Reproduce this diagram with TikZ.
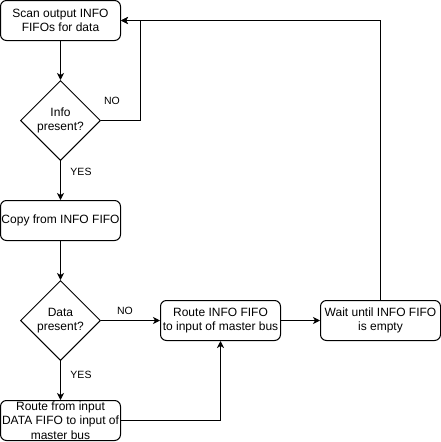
\documentclass[tikz,border=0pt]{standalone}
\usepackage{fontspec}
\setmainfont{Liberation Sans}
\usetikzlibrary{shapes.geometric,arrows.meta}
\begin{document}
\begin{tikzpicture}[x=1pt,y=-1pt,
  line width=1pt,
  stepbox/.style={draw,rounded corners=6pt,minimum width=120pt,minimum height=40pt,
    inner sep=0pt,align=center,font=\fontsize{12}{14.3}\selectfont},
  decision/.style={draw,diamond,minimum width=80pt,minimum height=80pt,
    inner sep=0pt,align=center,font=\fontsize{12}{14.3}\selectfont},
  flow/.style={-{Stealth[length=7pt,width=7pt,inset=2pt]}},
  lbl/.style={font=\fontsize{10.5}{12}\selectfont,inner sep=0pt}]
\useasboundingbox (0,0) rectangle (441,442);

% process steps
\node[stepbox] (scan)   at (60.5,20.5)  {Scan output INFO\\FIFOs for data};
\node[decision] (info)  at (60.5,120.5) {Info\\present?};
\node[stepbox] (copy)   at (60.5,220.5) {Copy from INFO FIFO};
\node[decision] (data)  at (60.5,320.5) {Data\\present?};
\node[stepbox] (direct) at (60.5,420.5) {Route from input\\DATA FIFO to input of\\master bus};
\node[stepbox] (route)  at (220.5,320.5) {Route INFO FIFO\\to input of master bus};
\node[stepbox] (wait)   at (380.5,320.5) {Wait until INFO FIFO\\is empty};

% bend point of the "no info" loop
\coordinate (loop) at (140.5,120.5);

% connectors
\draw[flow] (scan.south) -- (info.north);
\draw[flow] (info.east) -- (loop) |- (scan.east);
\draw[flow] (info.south) -- (copy.north);
\draw[flow] (copy.south) -- (data.north);
\draw[flow] (data.south) -- (direct.north);
\draw[flow] (data.east) -- (route.west);
\draw[flow] (direct.east) -| (route.south);
\draw[flow] (route.east) -- (wait.west);
\draw[flow] (wait.north) |- (scan.east);

% branch labels
\node[lbl] (noinfo)  at (112,101) {NO};
\node[lbl] (yesinfo) at (81,172)  {YES};
\node[lbl] (nodata)  at (125,311) {NO};
\node[lbl] (yesdata) at (81,375)  {YES};
\end{tikzpicture}
\end{document}
